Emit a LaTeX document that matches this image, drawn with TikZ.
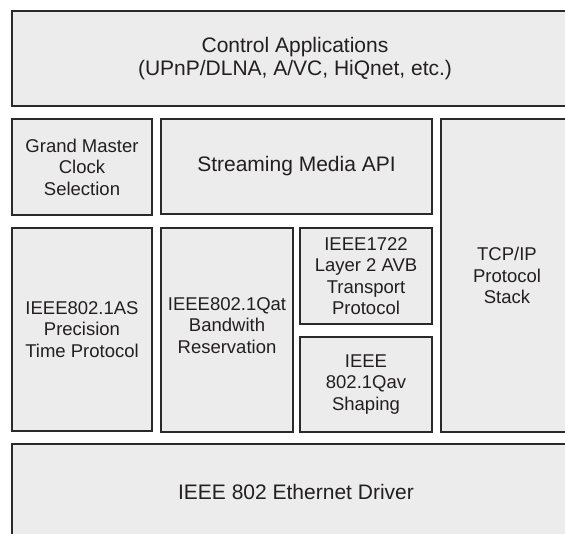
\documentclass[tikz,border=0pt]{standalone}
\usepackage{fontspec}
\setmainfont{Liberation Sans}
\usepackage{tikz}

\definecolor{boxfill}{HTML}{ECECEC}
\definecolor{boxline}{HTML}{2A2A2A}
\definecolor{boxtext}{HTML}{231F20}

\begin{document}
\begin{tikzpicture}[x=1pt,y=-1pt,
  blk/.style={draw=boxline, fill=boxfill, line width=1.6pt, rectangle,
    inner sep=0pt, outer sep=0pt, align=center, text=boxtext,
    font=\fontsize{18.5}{21.5}\selectfont},
  bigblk/.style={blk, font=\fontsize{21}{23}\selectfont}]

% page
\useasboundingbox (0,0) rectangle (565,533);
\clip (0,0) rectangle (565,533);

% top layer
\node[bigblk, minimum width=566pt, minimum height=95pt] (ctrl) at (295,58.5)
  {Control Applications\\(UPnP/DLNA, A/VC, HiQnet, etc.)};

% -------- second row --------

\node[blk, minimum width=140pt, minimum height=96pt] (gm) at (82,167)
  {Grand Master\\Clock\\Selection};
\node[bigblk, minimum width=271pt, minimum height=95pt] (api) at (296.5,166.5)
  {Streaming Media API};

% TCP/IP stack, full height on the right
\node[blk, minimum width=132pt, minimum height=313pt] (tcp) at (507,275.5)
  {TCP/IP\\Protocol\\Stack};

% -------- AVB protocols --------

\node[blk, minimum width=140pt, minimum height=203pt] (gptp) at (82,329.5)
  {IEEE802.1AS\\Precision\\Time Protocol};
\node[blk, minimum width=132pt, minimum height=204pt] (srp) at (227,330)
  {};
\node[align=center, text=boxtext, inner sep=0pt,
  font=\fontsize{18.5}{21.5}\selectfont] (srptxt) at (227,325.5)
  {IEEE802.1Qat\\Bandwith\\Reservation};
\node[blk, minimum width=132pt, minimum height=96pt] (avtp) at (366,276)
  {IEEE1722\\Layer 2 AVB\\Transport\\Protocol};
\node[blk, minimum width=132pt, minimum height=95pt] (fqtss) at (366,384.5)
  {IEEE\\802.1Qav\\Shaping};

% bottom layer
\node[bigblk, minimum width=568pt, minimum height=96pt] (eth) at (296,492)
  {IEEE 802 Ethernet Driver};

\end{tikzpicture}
\end{document}
